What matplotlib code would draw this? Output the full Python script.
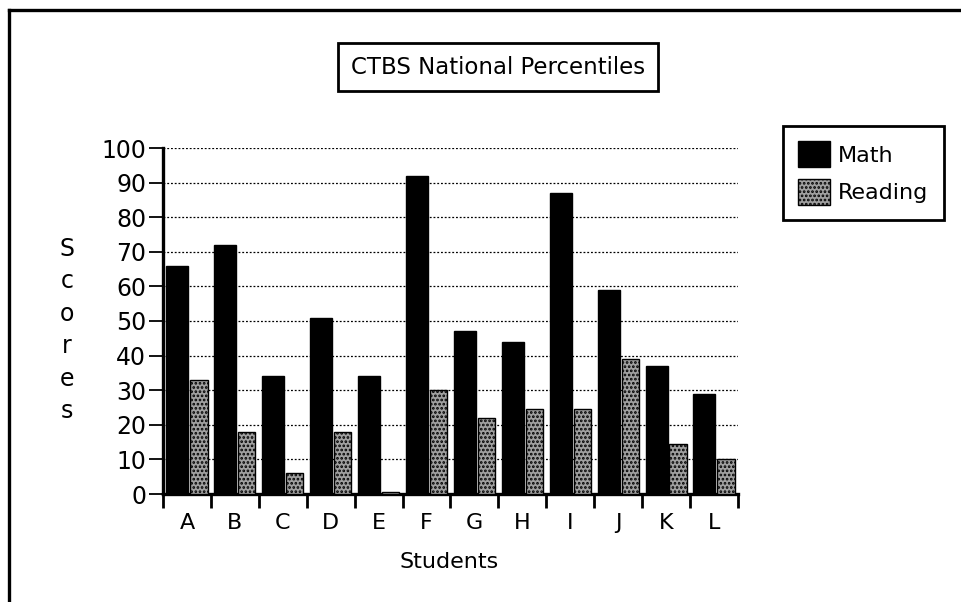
import matplotlib
matplotlib.use("Agg")
import matplotlib.pyplot as plt
from matplotlib.lines import Line2D
from matplotlib.patches import Patch
import numpy as np

# data
students = ["A", "B", "C", "D", "E", "F", "G", "H", "I", "J", "K", "L"]
math_scores = [66, 72, 34, 51, 34, 92, 47, 44, 87, 59, 37, 29]
reading_scores = [33, 18, 6, 18, 0.7, 30, 22, 24.5, 24.5, 39, 14.5, 10]
y_ticks = list(range(0, 101, 10))

plt.rcParams["font.family"] = ["DejaVu Sans"]
plt.rcParams["hatch.linewidth"] = 1.3

W, H = 962, 602
fig = plt.figure(figsize=(W / 100, H / 100), dpi=100)


def fx(px):
    return px / W


def fy(py):
    return 1 - py / H


# axes placed in pixel terms of the reference
ax = fig.add_axes([fx(163), fy(494), fx(738) - fx(163), fy(148) - fy(494)])

x = np.arange(len(students))
ax.bar(x + 0.07, math_scores, width=0.46, align="edge",
       color="black", edgecolor="black", linewidth=1, zorder=3)
ax.bar(x + 0.57, reading_scores, width=0.36, align="edge",
       color="#a0a0a0", edgecolor="black", hatch="....", linewidth=1, zorder=3)

ax.set_xlim(0, len(students))
ax.set_ylim(0, 100)
ax.set_yticks(y_ticks)
ax.set_yticklabels([str(v) for v in y_ticks], fontsize=17)

# category separators as major ticks, labels centred as minor ticks
ax.set_xticks(np.arange(len(students) + 1))
ax.set_xticklabels([])
ax.set_xticks(x + 0.5, minor=True)
ax.set_xticklabels(students, minor=True, fontsize=16)
ax.tick_params(axis="x", which="major", length=10, width=2, direction="out")
ax.tick_params(axis="x", which="minor", length=0, pad=14)
ax.tick_params(axis="y", length=10, width=1.3, direction="out", pad=2)

ax.grid(axis="y", color="black", linestyle=(0, (1.5, 1.5)), linewidth=0.9, zorder=0)
ax.spines["top"].set_visible(False)
ax.spines["right"].set_visible(False)
ax.spines["left"].set_linewidth(2.4)
ax.spines["bottom"].set_linewidth(2.4)

# stacked y label and x label
fig.text(fx(67), fy(330), "S\nc\no\nr\ne\ns", fontsize=17, ha="center",
         va="center", linespacing=1.45)
fig.text(fx(449), fy(562), "Students", fontsize=16, ha="center", va="center")

# boxed title
fig.text(fx(498), fy(67), "CTBS National Percentiles", fontsize=16.5,
         ha="center", va="center",
         bbox=dict(boxstyle="square,pad=0.55", facecolor="white",
                   edgecolor="black", linewidth=2))

handles = [Patch(facecolor="black", edgecolor="black", label="Math"),
           Patch(facecolor="#a0a0a0", edgecolor="black", hatch="....", label="Reading")]
leg = fig.legend(handles=handles, loc="upper left",
                 bbox_to_anchor=(fx(783), fy(126)), fontsize=16,
                 frameon=True, fancybox=False, handlelength=1.45,
                 handleheight=1.45, handletextpad=0.36, labelspacing=0.5,
                 borderpad=0.68, borderaxespad=0)
leg.get_frame().set_edgecolor("black")
leg.get_frame().set_linewidth(2)
leg.get_frame().set_alpha(1)

# outer frame (top and left edges visible)
fig.add_artist(Line2D([fx(9), fx(9)], [fy(10), 0], color="black", linewidth=2.4))
fig.add_artist(Line2D([fx(9), 1], [fy(10), fy(10)], color="black", linewidth=2.4))

fig.savefig("out.png", dpi=100)
